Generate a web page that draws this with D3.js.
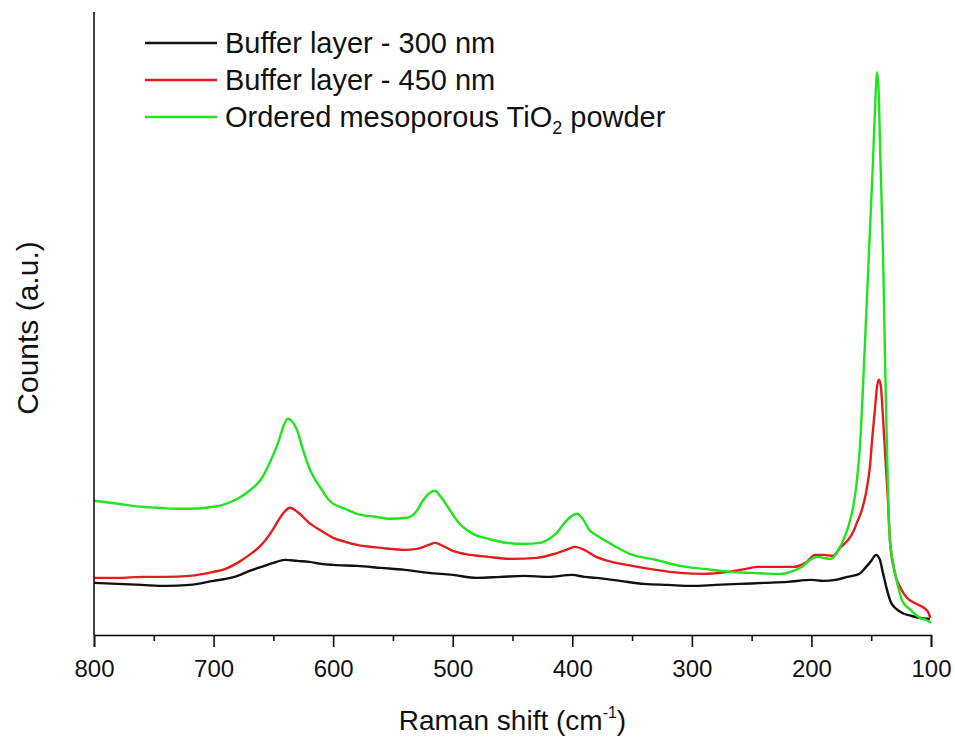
<!DOCTYPE html>
<html>
<head>
<meta charset="utf-8">
<script src="https://cdn.jsdelivr.net/npm/d3@7"></script>
<style>
    body { margin:0; background:#fff; }
    text { font-family: "Liberation Sans", Arial, sans-serif; fill:#111; }
</style>
</head>
<body>
<svg id="chart" width="955" height="742"></svg>
<script>
//DATA - raman shift (cm-1) and counts (a.u.)
const seriesNames = ["Buffer layer - 300 nm", "Buffer layer - 450 nm", "Ordered mesoporous TiO2 powder"];
const seriesColours = ["#111111", "#e51c1c", "#1fe41f"];

const shift300 = [800,780,760,740,720,700,690,680,670,660,650,640,630,620,610,600,580,560,540,520,500,480,460,440,420,400,390,380,360,340,320,300,280,260,240,220,200,190,180,170,160,155,150,146,143,140,137,134,129,124,116,109,101];
const counts300 = [520,510,500,490,500,540,560,590,640,680,720,750,740,730,710,700,690,670,650,620,600,570,580,590,580,600,580,570,540,510,500,490,500,510,520,530,550,540,550,580,610,670,740,800,760,610,460,340,260,220,190,170,160];

const shift450 = [800,780,760,740,720,700,690,680,670,660,650,645,640,636,630,620,610,600,590,580,560,540,530,520,515,510,500,490,470,450,430,415,405,398,390,380,370,350,330,310,290,270,255,245,230,215,205,197,190,182,176,170,165,162.4,158,154,151,149.3,147,145,143.5,142,140,138.5,136,134.3,130,125,120,112,103,100.5];
const counts450 = [570,570,580,580,590,630,660,720,800,900,1060,1160,1240,1270,1230,1120,1040,970,930,900,870,850,860,900,920,900,840,810,780,760,770,810,850,880,850,780,740,690,650,620,610,630,660,680,680,680,720,800,800,790,870,940,1030,1110,1240,1440,1690,1940,2240,2490,2550,2490,2140,1840,1340,940,610,460,370,310,240,170];

const shiftTiO2 = [800,780,760,747,730,720,700,692,680,670,660,653,646,641,638,635,630,625,619,610,603,590,580,565,552,538,530,525,519,515,510,502,495,483,470,455,440,427,418,413,405,399,396,392,385,379,365,352,330,310,290,268,250,226,215,207,200,195,190,184,176,173.6,169,165.2,162,159.4,155.5,151.8,148.5,146.5,145.3,144,142.5,141,140,138.5,136.8,135.5,134.3,132,130,127,124,118,109,104,100];
const countsTiO2 = [1340,1310,1280,1270,1260,1260,1280,1300,1360,1440,1560,1720,1920,2100,2160,2140,2040,1840,1640,1460,1340,1260,1210,1180,1160,1170,1240,1340,1420,1440,1380,1240,1120,1010,960,920,910,920,970,1020,1140,1200,1210,1170,1040,990,890,810,750,690,660,630,620,610,640,690,760,780,770,760,880,940,1090,1270,1540,1890,2840,3840,4740,5340,5620,5490,4840,4190,3740,2790,1840,1240,940,740,610,460,340,260,170,150,120];

const xTicks = [800,700,600,500,400,300,200,100];
const xMinorTicks = [750,650,550,450,350,250,150];
const countsDomain = [0, 6220];

//layout
const width = 955;
const height = 742;
const margin = { left:94, right:24, top:12, bottom:107 };
const contentsWidth = width - margin.left - margin.right;
const contentsHeight = height - margin.top - margin.bottom;

const svg = d3.select("#chart");
const contentsG = svg.append("g")
    .attr("class", "chart-contents")
    .attr("transform", `translate(${margin.left},${margin.top})`);

//scales - raman axis runs from high to low
const x = d3.scaleLinear().domain([800, 100]).range([0, contentsWidth]);
const y = d3.scaleLinear().domain(countsDomain).range([contentsHeight, 0]);

const seriesData = [
    { key:"b300", name:seriesNames[0], colour:seriesColours[0], points:d3.zip(shift300, counts300) },
    { key:"b450", name:seriesNames[1], colour:seriesColours[1], points:d3.zip(shift450, counts450) },
    { key:"tio2", name:seriesNames[2], colour:seriesColours[2], points:d3.zip(shiftTiO2, countsTiO2) }
];

const line = d3.line()
    .x(d => x(d[0]))
    .y(d => y(d[1]))
    .curve(d3.curveMonotoneX);

//spectra
contentsG.selectAll("path.spectrum").data(seriesData, d => d.key)
    .join("path")
        .attr("class", "spectrum")
        .attr("fill", "none")
        .attr("stroke", d => d.colour)
        .attr("stroke-width", 2.4)
        .attr("stroke-linejoin", "round")
        .attr("d", d => line(d.points));

//x axis - major and minor ticks
const xAxisG = contentsG.append("g")
    .attr("class", "x-axis")
    .attr("transform", `translate(0,${contentsHeight})`);

xAxisG.append("g")
    .attr("class", "minor")
    .call(d3.axisBottom(x).tickValues(xMinorTicks).tickSize(6).tickFormat(""))
    .call(g => g.select(".domain").remove());

xAxisG.append("g")
    .attr("class", "major")
    .call(d3.axisBottom(x).tickValues(xTicks).tickSize(12).tickPadding(13).tickFormat(d3.format("d")))
    .call(g => g.select(".domain").attr("stroke-width", 1.6));

xAxisG.selectAll(".tick line").attr("stroke", "#111").attr("stroke-width", 1.6);
xAxisG.selectAll(".major text")
    .attr("font-size", 24)
    .attr("font-family", "Liberation Sans, Arial, sans-serif")
    .attr("fill", "#111");

//y axis - just the line, no ticks
contentsG.append("line")
    .attr("class", "y-axis")
    .attr("x1", 0).attr("x2", 0)
    .attr("y1", 0).attr("y2", contentsHeight)
    .attr("stroke", "#111")
    .attr("stroke-width", 1.6);

//axis titles
const xTitle = svg.append("text")
    .attr("class", "x-title")
    .attr("x", margin.left + contentsWidth/2)
    .attr("y", 730)
    .attr("text-anchor", "middle")
    .attr("font-size", 28);
xTitle.append("tspan").text("Raman shift (cm");
xTitle.append("tspan").attr("font-size", 16).attr("dy", -12).text("-1");
xTitle.append("tspan").attr("dy", 12).text(")");

svg.append("text")
    .attr("class", "y-title")
    .attr("transform", "translate(38,328) rotate(-90)")
    .attr("text-anchor", "middle")
    .attr("font-size", 30)
    .text("Counts (a.u.)");

//legend
const legendG = svg.append("g")
    .attr("class", "legend")
    .attr("transform", "translate(145,43)");

const legendItemG = legendG.selectAll("g.legend-item").data(seriesData, d => d.key)
    .join("g")
        .attr("class", "legend-item")
        .attr("transform", (d,i) => `translate(0,${i * 37})`);

legendItemG.append("line")
    .attr("x1", 0).attr("x2", 72)
    .attr("stroke", d => d.colour)
    .attr("stroke-width", 2.4);

legendItemG.append("text")
    .attr("x", 80)
    .attr("dy", "0.36em")
    .attr("font-size", 29)
    .each(function(d){
        const textEl = d3.select(this);
        if(d.key === "tio2"){
            textEl.append("tspan").text("Ordered mesoporous TiO");
            textEl.append("tspan").attr("font-size", 18).attr("dy", 7).text("2");
            textEl.append("tspan").attr("dy", -7).text(" powder");
        }else{
            textEl.text(d.name);
        }
    });
</script>
</body>
</html>
